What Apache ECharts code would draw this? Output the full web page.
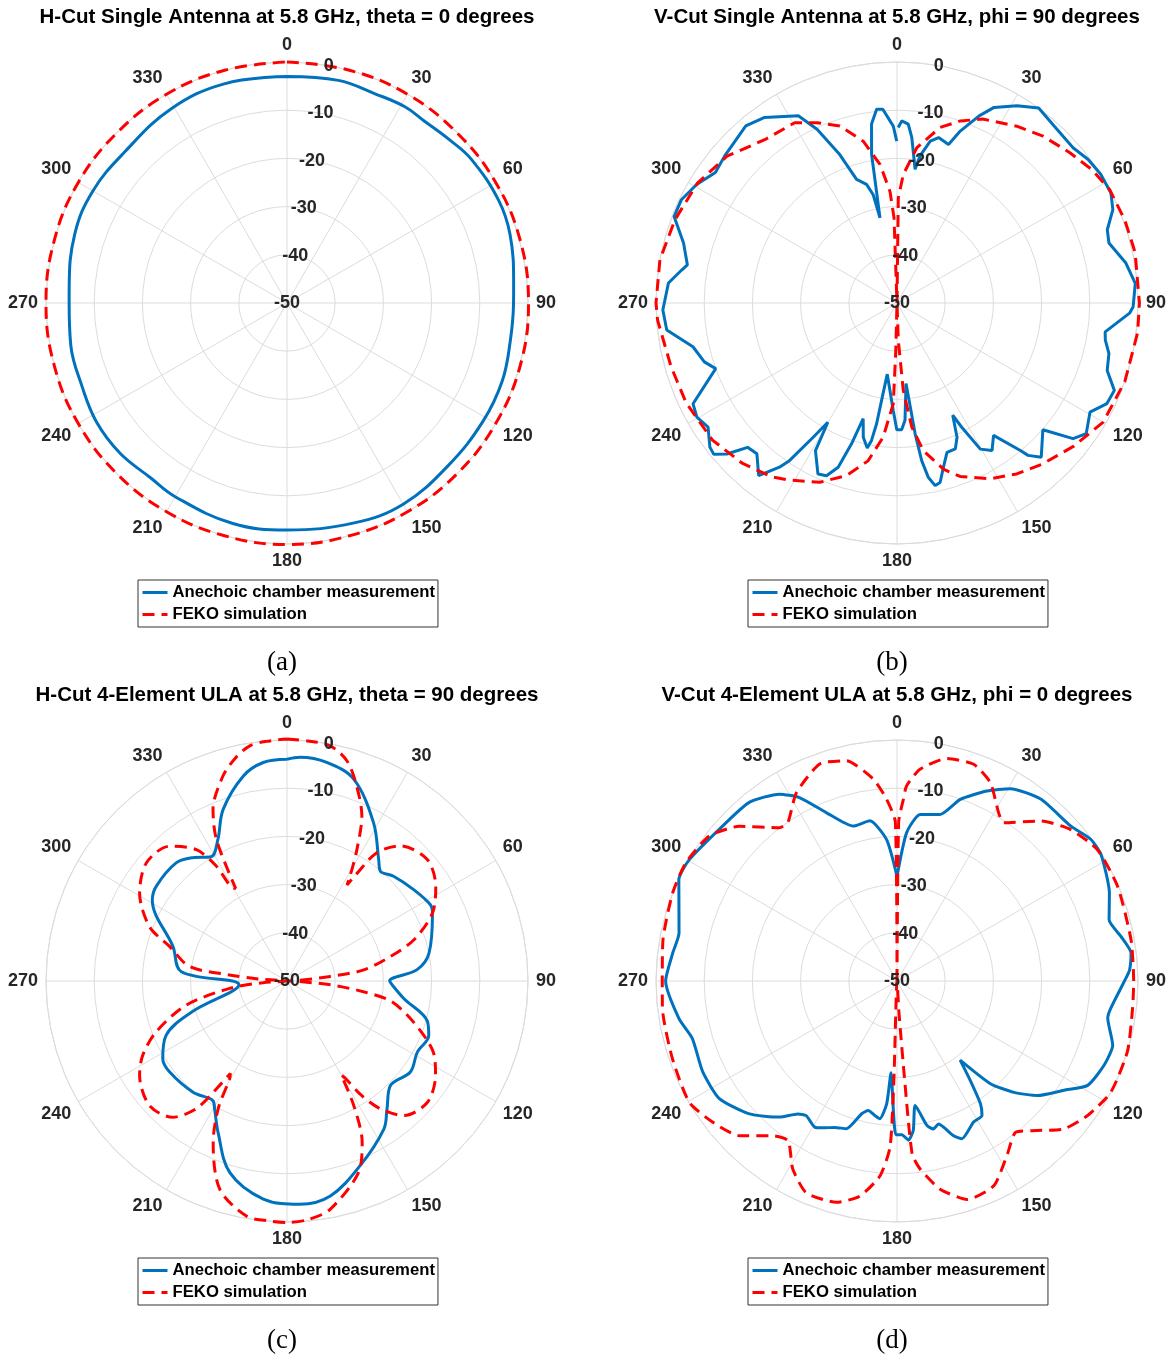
<!DOCTYPE html>
<html>
<head>
<meta charset="utf-8">
<script src="https://cdn.jsdelivr.net/npm/echarts@6.0.0/dist/echarts.min.js"></script>
<style>
html,body{margin:0;padding:0;background:#fff;}
#chart{width:1170px;height:1360px;}
</style>
</head>
<body>
<div id="chart"></div>
<script>
// ---------- text ----------
const titles = [
  'H-Cut Single Antenna at 5.8 GHz, theta = 0 degrees',
  'V-Cut Single Antenna at 5.8 GHz, phi = 90 degrees',
  'H-Cut 4-Element ULA at 5.8 GHz, theta = 90 degrees',
  'V-Cut 4-Element ULA at 5.8 GHz, phi = 0 degrees'
];
const subLabels = ['(a)', '(b)', '(c)', '(d)'];
const seriesNames = ['Anechoic chamber measurement', 'FEKO simulation'];

// ---------- axes ----------
const angleMin = 0, angleMax = 360, angleStep = 30;
const dbMin = -50, dbMax = 0, dbStep = 10;

// ---------- (a) H-Cut single antenna ----------
const aMeasAng = [0,13,23,31,37,45,52,64,73,85,90,100,110,121,135,150,163,180,194,210,218,228,238,248,259,270,274,288,300,313,329,344,360];
const aMeasDb  = [-3.0,-2.6,-2.9,-2.5,-2.7,-2.2,-1.5,-1.2,-1.6,-2.8,-3.0,-3.0,-2.5,-2.5,-2.5,-1.8,-2.3,-2.9,-2.9,-3.6,-4.0,-3.4,-3.4,-4.1,-4.3,-4.8,-4.7,-3.7,-3.5,-4.0,-3.1,-2.7,-3.0];
const aSimAng  = [0,15,30,45,60,75,90,105,120,135,150,165,180,195,210,225,240,255,270,285,300,315,330,345,360];
const aSimDb   = [0,0,0,-0.1,0,0.1,0.1,0.1,0,0,0,0,0.1,0,0,0,0,0,0,0,0,-0.1,0,0,0];

// ---------- (b) V-Cut single antenna ----------
const bMeasAng = [0.4,1.5,3.6,5.1,7.7,8.9,11.6,14.1,18,20.2,23.7,26.4,31.3,36,41.6,48.6,53.1,57.7,62.8,66.6,70.8,74.2,80.1,85.3,90.9,92.5,97.9,100.1,103.4,107.8,111.9,115.6,119.5,124.6,127.6,131,136.9,139.3,140.1,143.9,147.2,150.3,152.5,153.6,155.9,158.2,161.5,164.2,166.5,168.2,169.8,171.1,172.1,173.6,176.1,177.9,180.1,182,187.8,189,189.6,190.5,191.6,194.1,196.3,197.9,199.7,202.2,204.8,208.9,210.1,212,214.3,215.6,218.7,222.9,226,228.4,230.5,232.4,236.7,240.3,243.7,250.1,253,257.9,263.3,268.3,275,278.7,280.3,285.7,291.2,295.6,300.6,305.7,310.5,319.5,324.5,332.2,335.3,338.9,341.9,345.6,347.6,348.7,350.3,351.9,354,355.8,358.8,359.9];
const bMeasDb  = [-13.6,-12.2,-12.8,-15.5,-22,-19.1,-15.7,-14.6,-15.4,-12,-7.6,-4.7,-2.1,0,-0.9,-1.3,-0.4,0,-0.1,-1.2,-3.8,-4.3,-1.8,-0.4,-1.0,-1.7,-6.4,-6.1,-4.8,-4.2,-1.4,-1.7,-4.0,-2.3,-3.9,-9.9,-6.2,-8.3,-10.1,-16,-13.6,-15.1,-21,-24,-19.5,-17.4,-17.3,-14.6,-11.7,-11.3,-13.2,-16.9,-22.6,-33.2,-25.6,-23.7,-23.7,-27.7,-35.1,-29.5,-24.6,-21,-19.3,-21.3,-25,-19.3,-13.8,-11.3,-10.9,-15,-21.4,-17.1,-10.4,-8.1,-4.1,-7.3,-6.9,-2.8,-0.7,-1.0,-3.1,-2.2,-2.8,-10.0,-8.2,-6.7,-1.9,-1.4,-2.4,-4.8,-5.8,-4.0,-0.4,-0.4,-1.7,-3.6,-3.0,-1.7,-2.7,-6.1,-10.3,-17,-23,-24.6,-27,-32,-18.7,-12.5,-9.6,-9.7,-13.3,-16.4];
const bSimAng  = [0,0.7,2.8,7.3,13.8,19.2,25,34.1,41.2,48.9,55.6,62,70,78,90,97,109,120,129,138,145,152,156.3,160,164.4,169.9,173.2,175.9,178,180,181.5,182.1,185.9,190.4,196.3,203.3,211.3,215.6,223.9,233.4,244.6,254.2,265.9,270,280.3,290.5,301,310.8,321,330.4,336.1,342.1,348.2,353,356.4,358,360];
const bSimDb   = [-50,-28.2,-23.3,-17.5,-12.5,-10,-7.9,-5.7,-4.0,-2.5,-1.0,0,0.3,0.5,0.3,0.3,0,-0.6,-2.8,-5,-6.7,-8.7,-10.5,-11.7,-14.2,-18.9,-24.1,-31.8,-42.3,-50,-40,-29.1,-22,-16.7,-12.7,-9.5,-7,-5.6,-3.8,-2.3,-1.6,-1.3,-0.2,0,0,-0.8,-1.7,-3.4,-6.4,-7.0,-9.1,-11.4,-15.7,-21,-26.8,-32.3,-50];

// ---------- (c) H-Cut 4-element ULA ----------
const cMeasAng = [0,3.3,10.3,18.3,28.7,37,40.4,45.5,54.2,62,65,79,85,90,92,98.5,106,111,118.6,126.4,135.3,142,146.8,158.4,168.6,176.7,186.2,196.6,204.5,209.5,211.8,220.2,232.2,238,245.8,252,265.5,275,286.8,301,305.9,316.8,322.6,328.6,334,339.6,348,353.8,360];
const cMeasDb  = [-4.0,-3.5,-3.9,-5.9,-12.6,-18.4,-20.1,-19.0,-17.6,-16.3,-16.7,-20,-22.9,-28.7,-28.2,-25.5,-19.7,-18.5,-19.2,-18.2,-19.5,-16.3,-13.3,-8.8,-4.5,-3.6,-4.5,-8.5,-15.5,-19.5,-20.8,-19.8,-19.2,-19.6,-22.5,-29.3,-40,-28,-25.3,-17.4,-16.5,-16.4,-17.8,-19.8,-17.3,-12,-6.5,-4.4,-4.0];
const cSimAng  = [0,5,10.4,15,18.8,24.4,28,31,32,33,35,40,49,57.5,65,72,76.7,81.8,84,88,90,92,95,98,101,108,116,122.4,130.8,139,143.9,147,149,150,151.8,155,159.5,169.3,175,180,185,189.8,197.9,204.6,208.3,210.4,211.5,213.2,215.4,220,227.8,237.4,242.7,248.8,256.5,262.7,266,270,274,276,278.4,286.4,291.6,300.8,310,318.9,325.4,328.4,329.9,331,333.5,336.7,342.7,347,351,355,360];
const cSimDb   = [0.2,0,-0.4,-2.5,-6.1,-12.4,-19.1,-24.6,-26.5,-23.5,-17.5,-13.4,-11.5,-13.4,-16.7,-22.3,-28,-33.9,-41,-48,-50,-48,-41,-34,-28,-22.4,-16.2,-13.5,-11.5,-13,-17.2,-21.8,-26.4,-27.5,-20.7,-13.1,-7.6,-1.8,-0.3,0.1,-0.1,-0.5,-4.6,-13.2,-19.9,-26.5,-27.5,-23.3,-17.5,-13.1,-11.5,-13.7,-16.3,-20.9,-28.5,-38,-45,-50,-44,-38,-29.6,-24.6,-19.3,-14.4,-11.9,-12.9,-16.9,-22,-27.7,-28,-17.2,-11.2,-5.4,-2.5,-0.6,-0.1,0.2];

// ---------- (d) V-Cut 4-element ULA ----------
const dMeasAng = [0,3.7,7.9,14.5,19.2,25.3,30.5,38.3,48.3,53.8,58.2,67.5,73.9,78.8,83.2,87.3,90,97.3,100,106.6,112,118.7,123.2,129.2,133.6,137.7,141.4,143.6,145.8,147.7,151.5,157.6,159.9,163.8,166.2,168.3,171.7,173.8,175.9,178.2,180.4,181.6,183.7,184.8,187.1,189.3,192.5,194.9,198.9,203,206.7,209.4,214,216.7,220.8,228,236.5,244.9,254.3,260.2,270,277,282.4,294.9,300.3,311.6,320.4,327.8,332,337.2,344.2,350.4,355.8,360];
const dMeasDb  = [-28.3,-19.2,-15.1,-14.3,-10.1,-6.4,-3.7,-1.9,-1.7,-0.2,-0.2,-2.3,-4.2,-2.6,-1.1,-1.7,-2.8,-5.3,-5.6,-3.3,-3.6,-4.9,-8.6,-12.4,-16.5,-21.2,-29,-24.4,-19.2,-17,-16.7,-14.6,-15.8,-19.1,-18.4,-19.4,-23.9,-18.8,-16.9,-18.1,-18.1,-23.1,-30.9,-24.4,-21.2,-21.7,-22.5,-21.5,-17.6,-17,-15.9,-15.2,-16.3,-15.6,-12.7,-8.8,-5.8,-5.5,-5.9,-4.1,-2.0,-3.1,-3.7,-0.1,-0.1,-1.6,-1.9,-4.2,-6.9,-12.1,-16.6,-16.3,-20.6,-28.3];
const dSimAng  = [0,0.6,2,2.8,6.2,12.6,19.5,25.2,31.1,34,41.9,48.9,56.7,66.8,80,90,96.6,107,117.5,125.2,131.5,136.9,141.9,147.8,154.7,162.2,168.3,173,175,175.6,176.5,177.5,180,181.2,181.8,182.4,185,189.8,195.3,203.2,209,214.3,218.8,225.5,232.6,239.8,250.9,263.3,270,280,291.4,299.2,307.7,314.5,322.5,325.4,331.9,340.4,347,353.3,356.7,359.4,360];
const dSimDb   = [-50,-17,-12.3,-9.5,-5.8,-2.7,-2.3,-4.5,-9.2,-10.4,-5.4,-2.2,-0.3,-0.2,-0.7,-0.9,-0.8,0,0,-1.6,-3.7,-7.5,-10.1,-7.2,-3,-2.4,-5.9,-10.7,-14,-30,-44,-50,-50,-50,-30,-15.5,-9.4,-4.7,-2.4,-2.2,-5.4,-9.9,-8.8,-4.2,-1.8,-0.1,-0.7,-1.0,-1.3,-0.7,0,0.2,-0.8,-4.2,-9.9,-10.1,-5.7,-2.2,-3.1,-7.8,-12.2,-17,-50];

// ---------- assemble ----------
const panels = [
  {meas:[aMeasAng,aMeasDb], sim:[aSimAng,aSimDb]},
  {meas:[bMeasAng,bMeasDb], sim:[bSimAng,bSimDb]},
  {meas:[cMeasAng,cMeasDb], sim:[cSimAng,cSimDb]},
  {meas:[dMeasAng,dMeasDb], sim:[dSimAng,dSimDb]}
];
const centers = [[287,303],[897,303],[287,981],[897,981]];
const smoothing = [[0.4,0.4],[0,0],[0.35,0.3],[0.2,0.2]];
const R = 241;
// the data polar is slightly larger (same dB scale) so lines at 0 dB are not clipped
const headroomDb = 2;
const Rdata = R * (dbMax + headroomDb - dbMin) / (dbMax - dbMin);
const FONT = "'Liberation Sans', Arial, Helvetica, sans-serif";
const GRID = '#dcdcdc';
const LABEL = '#262626';
const BLUE = '#0072BD';
const RED = '#FF0000';

function pairs(angs, dbs){ return angs.map((a,i)=>[dbs[i], a]); }

const polar = [], angleAxis = [], radiusAxis = [], series = [], title = [], legend = [];
centers.forEach((c, k) => {
  const pGrid = polar.length;       // visible grid + angle labels
  const pLab = pGrid + 1;           // radius labels along the 80° line
  const pData = pGrid + 2;          // data
  polar.push({center:c, radius:R});
  polar.push({center:c, radius:R});
  polar.push({center:c, radius:Rdata});

  // grid polar
  angleAxis.push({
    polarIndex:pGrid, type:'value', min:angleMin, max:angleMax, interval:angleStep,
    startAngle:90, clockwise:true,
    axisLine:{show:true, lineStyle:{color:GRID, width:1}},
    axisTick:{show:false},
    splitLine:{show:true, lineStyle:{color:GRID, width:1}},
    axisLabel:{show:true, margin:8, fontSize:18, fontWeight:'bold', color:LABEL, fontFamily:FONT}
  });
  radiusAxis.push({
    polarIndex:pGrid, type:'value', min:dbMin, max:dbMax, interval:dbStep,
    axisLine:{show:false}, axisTick:{show:false}, axisLabel:{show:false},
    splitLine:{show:true, lineStyle:{color:GRID, width:1}}
  });
  // label polar
  angleAxis.push({
    polarIndex:pLab, type:'value', min:angleMin, max:angleMax, interval:angleStep,
    startAngle:80, clockwise:true, show:false
  });
  radiusAxis.push({
    polarIndex:pLab, type:'value', min:dbMin, max:dbMax, interval:dbStep, z:20,
    axisLine:{show:false}, axisTick:{show:false}, splitLine:{show:false},
    axisLabel:{show:true, margin:0, align:'center', verticalAlign:'middle',
      fontSize:18, fontWeight:'bold', color:LABEL, fontFamily:FONT}
  });
  // data polar
  angleAxis.push({
    polarIndex:pData, type:'value', min:angleMin, max:angleMax, interval:angleStep,
    startAngle:90, clockwise:true, show:false
  });
  radiusAxis.push({
    polarIndex:pData, type:'value', min:dbMin, max:dbMax + headroomDb, show:false
  });

  const p = panels[k];
  series.push({
    name:seriesNames[0], type:'line', coordinateSystem:'polar', polarIndex:pData,
    data:pairs(p.meas[0], p.meas[1]), symbol:'none', smooth:smoothing[k][0], clip:false, animation:false,
    lineStyle:{color:BLUE, width:3}, itemStyle:{color:BLUE}, z:5
  });
  series.push({
    name:seriesNames[1], type:'line', coordinateSystem:'polar', polarIndex:pData,
    data:pairs(p.sim[0], p.sim[1]), symbol:'none', smooth:smoothing[k][1], clip:false, animation:false,
    lineStyle:{color:RED, width:3, type:[12,7]}, itemStyle:{color:RED}, z:6
  });
  title.push({
    text:titles[k], left:c[0], top:c[1]-296, textAlign:'center', padding:0,
    textStyle:{fontSize:20.5, fontWeight:'bold', color:'#000', fontFamily:FONT}
  });
  title.push({
    text:subLabels[k], left:c[0]-5, top:c[1]+346, textAlign:'center', padding:0,
    textStyle:{fontSize:27, fontWeight:'normal', color:'#000', fontFamily:"'Liberation Serif', 'DejaVu Serif', serif"}
  });
  legend.push({
    data:seriesNames, orient:'vertical', left:c[0]-149, top:c[1]+277,
    selectedMode:false, itemWidth:25, itemHeight:14, itemGap:5,
    padding:[4,3,4,3], borderColor:'#333', borderWidth:1, backgroundColor:'#fff',
    lineStyle:{width:3},
    itemStyle:{opacity:0, borderWidth:0},
    textStyle:{fontSize:16.7, fontWeight:'bold', color:'#000', fontFamily:FONT, padding:[0,0,0,0]}
  });
});

const chart = echarts.init(document.getElementById('chart'), null, {renderer:'canvas'});
chart.setOption({
  backgroundColor:'#fff',
  animation:false,
  title, legend, polar, angleAxis, radiusAxis, series
});
</script>
</body>
</html>
